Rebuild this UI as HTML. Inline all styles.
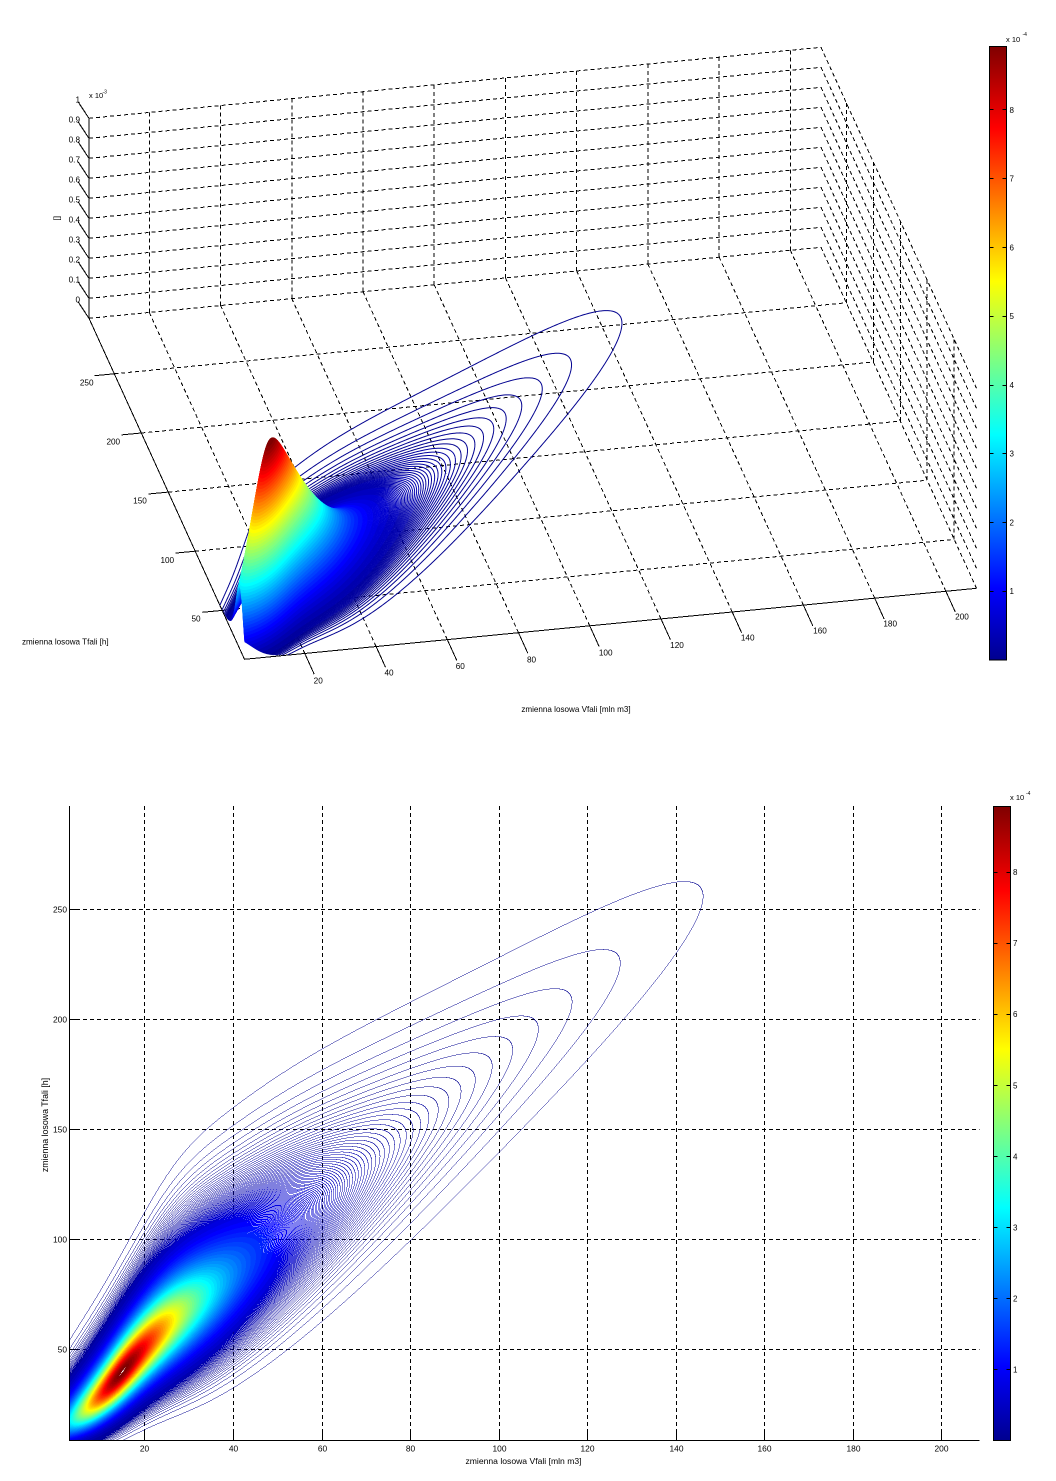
<!DOCTYPE html>
<html><head><meta charset="utf-8">
<style>
html,body{margin:0;padding:0;background:#fff;}
#wrap{position:relative;width:1056px;height:1481px;overflow:hidden;background:#fff;}
svg,canvas{position:absolute;left:0;top:0;}
text{font-family:"Liberation Sans",Arial,sans-serif;fill:#000;}
</style></head><body><div id="wrap">
<svg width="1056" height="1481" viewBox="0 0 1056 1481">
<defs>
<linearGradient id="jet" x1="0" y1="1" x2="0" y2="0">
<stop offset="0" stop-color="#00008F"/><stop offset="0.117" stop-color="#0000FF"/><stop offset="0.367" stop-color="#00FFFF"/><stop offset="0.617" stop-color="#FFFF00"/><stop offset="0.867" stop-color="#FF0000"/><stop offset="1" stop-color="#800000"/>
</linearGradient>
</defs>
<!-- 3D dashed grid -->
<g stroke="#000" stroke-width="1" stroke-dasharray="4 3" fill="none" shape-rendering="crispEdges">
<path d="M89 318.3L821 247.3M89 298.3L821 227.3M89 278.3L821 207.3M89 258.3L821 187.3M89 238.3L821 167.3M89 218.3L821 147.3M89 198.3L821 127.3M89 178.3L821 107.3M89 158.3L821 87.3M89 138.3L821 67.3M89 118.3L821 47.3"/>
<path d="M821 247.3L976.5 588.3M821 227.3L976.5 568.3M821 207.3L976.5 548.3M821 187.3L976.5 528.3M821 167.3L976.5 508.3M821 147.3L976.5 488.3M821 127.3L976.5 468.3M821 107.3L976.5 448.3M821 87.3L976.5 428.3M821 67.3L976.5 408.3M821 47.3L976.5 388.3"/>
<path d="M149.3 312.5V112.5M220.6 305.5V105.5M291.8 298.6V98.6M363 291.7V91.7M434.2 284.8V84.8M505.5 277.9V77.9M576.7 271V71M647.9 264.1V64.1M719.2 257.2V57.2M790.4 250.3V50.3"/>
<path d="M954.2 539.4V339.4M927.2 480.2V280.2M900.3 421.1V221.1M873.3 362V162M846.3 302.8V102.8"/>
<path d="M304.8 653.5L149.3 312.5M376.1 646.5L220.6 305.5M447.3 639.6L291.8 298.6M518.5 632.7L363 291.7M589.7 625.8L434.2 284.8M661 618.9L505.5 277.9M732.2 612L576.7 271M803.4 605.1L647.9 264.1M874.7 598.2L719.2 257.2M945.9 591.3L790.4 250.3"/>
<path d="M222.2 610.4L954.2 539.4M195.2 551.2L927.2 480.2M168.3 492.1L900.3 421.1M141.3 433L873.3 362M114.3 373.8L846.3 302.8"/>
</g>
<!-- 3D solid axes and ticks -->
<g stroke="#000" stroke-width="1" fill="none" shape-rendering="crispEdges">
<path d="M244.5 659.3L976.5 588.3M244.5 659.3L89 318.3M89 318.3V118.3"/>
<path d="M304.8 653.5l9.4 20.7M376.1 646.5l9.4 20.7M447.3 639.6l9.4 20.7M518.5 632.7l9.4 20.7M589.7 625.8l9.4 20.7M661 618.9l9.4 20.7M732.2 612l9.4 20.7M803.4 605.1l9.4 20.7M874.7 598.2l9.4 20.7M945.9 591.3l9.4 20.7"/>
<path d="M222.2 610.4l-19.9 1.9M195.2 551.2l-19.9 1.9M168.3 492.1l-19.9 1.9M141.3 433l-19.9 1.9M114.3 373.8l-19.9 1.9"/>
<path d="M89 318.3l-11 -16.6M89 298.3l-11 -16.6M89 278.3l-11 -16.6M89 258.3l-11 -16.6M89 238.3l-11 -16.6M89 218.3l-11 -16.6M89 198.3l-11 -16.6M89 178.3l-11 -16.6M89 158.3l-11 -16.6M89 138.3l-11 -16.6M89 118.3l-11 -16.6"/>
</g>
<!-- 3D colorbar -->
<rect x="989.5" y="46.5" width="17" height="613.5" fill="url(#jet)" stroke="#000" stroke-width="1" shape-rendering="crispEdges"/>
<g stroke="#000" stroke-width="1" shape-rendering="crispEdges">
<path d="M989.5 591.5h4M1002.5 591.5h4M989.5 522.5h4M1002.5 522.5h4M989.5 453.5h4M1002.5 453.5h4M989.5 385.5h4M1002.5 385.5h4M989.5 316.5h4M1002.5 316.5h4M989.5 247.5h4M1002.5 247.5h4M989.5 178.5h4M1002.5 178.5h4M989.5 109.5h4M1002.5 109.5h4"/>
</g>
<!-- 3D texts -->
<g font-size="8.2" text-anchor="middle">
<text x="318.2" y="683.7">20</text><text x="389" y="675.7">40</text><text x="460.3" y="669">60</text><text x="531.5" y="662.3">80</text><text x="605.7" y="655.7">100</text><text x="677" y="648">120</text><text x="747.7" y="640.7">140</text><text x="820" y="633.7">160</text><text x="890.2" y="626.3">180</text><text x="962" y="619.7">200</text>
<text x="86.7" y="385.7">250</text><text x="113.3" y="444.7">200</text><text x="140" y="503.7">150</text><text x="167.3" y="563">100</text><text x="196" y="621.3">50</text>
</g>
<g font-size="8.2" text-anchor="end">
<text x="80" y="302.5">0</text><text x="80" y="282.5">0.1</text><text x="80" y="262.5">0.2</text><text x="80" y="242.5">0.3</text><text x="80" y="222.5">0.4</text><text x="80" y="202.5">0.5</text><text x="80" y="182.5">0.6</text><text x="80" y="162.5">0.7</text><text x="80" y="142.5">0.8</text><text x="80" y="122.5">0.9</text><text x="80" y="102.5">1</text>
</g>
<text x="89" y="98" font-size="7.5">x 10</text><text x="102.5" y="93.5" font-size="5">-3</text>
<text transform="translate(59.5,218.3) rotate(-90)" font-size="8.2" text-anchor="middle">[]</text>
<text x="22" y="644.7" font-size="8.1">zmienna losowa Tfali [h]</text>
<text x="576" y="712" font-size="8.1" text-anchor="middle">zmienna losowa Vfali [mln m3]</text>
<g font-size="8">
<text x="1009.5" y="594.2">1</text><text x="1009.5" y="525.5">2</text><text x="1009.5" y="456.7">3</text><text x="1009.5" y="388">4</text><text x="1009.5" y="319.2">5</text><text x="1009.5" y="250.4">6</text><text x="1009.5" y="181.7">7</text><text x="1009.5" y="112.9">8</text>
</g>
<text x="1006" y="42" font-size="7.5">x 10</text><text x="1022.5" y="36" font-size="5">-4</text>

<!-- 2D dashed grid -->
<g stroke="#000" stroke-width="1" stroke-dasharray="4 3" fill="none" shape-rendering="crispEdges">
<path d="M144.5 1440V806M233.5 1440V806M322.5 1440V806M410.5 1440V806M499.5 1440V806M587.5 1440V806M676.5 1440V806M764.5 1440V806M853.5 1440V806M941.5 1440V806"/>
<path d="M69 1349.5H979.5M69 1239.5H979.5M69 1129.5H979.5M69 1019.5H979.5M69 909.5H979.5"/>
</g>
<g stroke="#000" stroke-width="1" fill="none" shape-rendering="crispEdges">
<path d="M69.5 806V1441M69 1440.5H979.5"/>
<path d="M144.5 1440V1431M233.5 1440V1431M322.5 1440V1431M410.5 1440V1431M499.5 1440V1431M587.5 1440V1431M676.5 1440V1431M764.5 1440V1431M853.5 1440V1431M941.5 1440V1431"/>
<path d="M69 1349.5H78M69 1239.5H78M69 1129.5H78M69 1019.5H78M69 909.5H78"/>
</g>
<g font-size="8.4" text-anchor="middle">
<text x="144.5" y="1451.5">20</text><text x="233.5" y="1451.5">40</text><text x="322.5" y="1451.5">60</text><text x="410.5" y="1451.5">80</text><text x="499.5" y="1451.5">100</text><text x="587.5" y="1451.5">120</text><text x="676.5" y="1451.5">140</text><text x="764.5" y="1451.5">160</text><text x="853.5" y="1451.5">180</text><text x="941.5" y="1451.5">200</text>
</g>
<g font-size="8.4" text-anchor="end">
<text x="67" y="1352.5">50</text><text x="67" y="1242.5">100</text><text x="67" y="1132.5">150</text><text x="67" y="1022.5">200</text><text x="67" y="912.5">250</text>
</g>
<text x="523.5" y="1464" font-size="8.6" text-anchor="middle">zmienna losowa Vfali [mln m3]</text>
<text transform="translate(48,1125) rotate(-90)" font-size="8.8" text-anchor="middle">zmienna losowa Tfali [h]</text>
<!-- 2D colorbar -->
<rect x="993.5" y="806.5" width="17" height="634" fill="url(#jet)" stroke="#000" stroke-width="1" shape-rendering="crispEdges"/>
<g stroke="#000" stroke-width="1" shape-rendering="crispEdges">
<path d="M993.5 1369.5h4M1006.5 1369.5h4M993.5 1298.5h4M1006.5 1298.5h4M993.5 1227.5h4M1006.5 1227.5h4M993.5 1156.5h4M1006.5 1156.5h4M993.5 1085.5h4M1006.5 1085.5h4M993.5 1014.5h4M1006.5 1014.5h4M993.5 943.5h4M1006.5 943.5h4M993.5 872.5h4M1006.5 872.5h4"/>
</g>
<g font-size="8">
<text x="1013" y="1372.5">1</text><text x="1013" y="1301.4">2</text><text x="1013" y="1230.4">3</text><text x="1013" y="1159.3">4</text><text x="1013" y="1088.3">5</text><text x="1013" y="1017.2">6</text><text x="1013" y="946.2">7</text><text x="1013" y="875.1">8</text>
</g>
<text x="1010" y="800" font-size="7.5">x 10</text><text x="1026" y="795" font-size="5">-4</text>
</svg>
<canvas id="c" width="1056" height="1481" style="width:1056px;height:1481px"></canvas>
</div>
<script>
(function(){
var cv=document.getElementById('c');
var dpr=window.devicePixelRatio||1;
cv.width=Math.round(1056*dpr);cv.height=Math.round(1481*dpr);
var ctx=cv.getContext('2d');
function u(j){if(j<1||j>47)return 0;if(j<=16)return j/16;if(j<=31)return 1;return (48-j)/16;}
var JET=[];
for(var i=1;i<=64;i++){var r=u(i-24),g=u(i-8),b=(i<=39)?u(i+8):0;JET.push([Math.round(r*255),Math.round(g*255),Math.round(b*255)]);}
var NL=701,KMAX=700;
function lnR(v){var d=v-15;if(d<0)d=d*(1-0.06*d);return -(0.037*(Math.sqrt(d*d+9)-3)+1.81*(1-Math.exp(-d*d/1697)));}
function mfun(v){var d=v-15;return 19+1.62*v-3.5*Math.exp(-d*d/400)+0.6*d*Math.exp(-d*d/225);}
function f(v,t){if(t<0)t=0;var e=(v-60)/45,e2=(v-15)/12;var s=1+0.17*Math.exp(-e*e)-0.12*Math.exp(-e2*e2);var z=(Math.sqrt(t)-Math.sqrt(mfun(v)))/s;
 var lg=-4.28*(Math.sqrt(1+z*z/2.4025)-1);return Math.exp(lnR(v)+lg);}
function colIdx(k){return Math.min(63,Math.floor(k/NL*64));}

/* ---------- 2D contour (per-pixel level boundaries) ---------- */
var x0=Math.ceil(70*dpr),x1=Math.round(979.3*dpr),y0=Math.round(806*dpr),y1=Math.round(1440*dpr);
var w=x1-x0,h=y1-y0,W1=w+1;
var K=new Int16Array(W1*(h+1));
for(var j=0;j<=h;j++){var cy=(y0+j+0.5)/dpr;var T=50+(1349.3-cy)/2.2;
 for(var ii=0;ii<=w;ii++){var cx=(x0+ii+0.5)/dpr;var V=20+(cx-144.8)/4.4278;
  var k=Math.floor(f(V,T)*NL);if(k>KMAX)k=KMAX;K[j*W1+ii]=k;}}
var img=ctx.createImageData(w,h);var D=img.data;
for(var j2=0;j2<h;j2++)for(var i2=0;i2<w;i2++){
 var k0=K[j2*W1+i2],kr=K[j2*W1+i2+1],kd=K[(j2+1)*W1+i2];
 if(k0!==kr||k0!==kd){var km=Math.max(k0,kr,kd);var c=JET[colIdx(km)];var p=(j2*w+i2)*4;D[p]=c[0];D[p+1]=c[1];D[p+2]=c[2];D[p+3]=255;}}
ctx.putImageData(img,x0,y0);

/* ---------- 3D contour3 ---------- */
ctx.setTransform(dpr,0,0,dpr,0,0);
var nv=412,nt=290,Va=3.06,Vb=208.6,Ta=8.64,Tb=296.95;
var dv=(Vb-Va)/(nv-1),dt=(Tb-Ta)/(nt-1);
var F=new Float64Array(nv*nt);
for(var a1=0;a1<nv;a1++)for(var b1=0;b1<nt;b1++)F[a1*nt+b1]=f(Va+a1*dv,Ta+b1*dt);
var segs=[];for(var q=0;q<=KMAX;q++)segs.push([]);
function PX(V,T){return 244.5+(V-3.06)*3.5614-(T-8.64)*0.53935;}
function PY(V,T){return 659.3-(V-3.06)*0.34543-(T-8.64)*1.18276;}
for(var i3=0;i3<nv-1;i3++){for(var j3=0;j3<nt-1;j3++){
 var A=F[i3*nt+j3],B=F[(i3+1)*nt+j3],C=F[(i3+1)*nt+j3+1],Dd=F[i3*nt+j3+1];
 var mn=Math.min(A,B,C,Dd),mx=Math.max(A,B,C,Dd);
 var ka=Math.floor(mn*NL)+1,kb=Math.min(KMAX,Math.floor(mx*NL));
 if(ka>kb)continue;
 var va=Va+i3*dv,ta=Ta+j3*dt;
 for(var kk=ka;kk<=kb;kk++){var L=kk/NL;var pts=[];var s;
  if((A>=L)!==(B>=L)){s=(L-A)/(B-A);pts.push(va+s*dv,ta);}
  if((B>=L)!==(C>=L)){s=(L-B)/(C-B);pts.push(va+dv,ta+s*dt);}
  if((C>=L)!==(Dd>=L)){s=(L-C)/(Dd-C);pts.push(va+dv-s*dv,ta+dt);}
  if((Dd>=L)!==(A>=L)){s=(L-Dd)/(A-Dd);pts.push(va,ta+dt-s*dt);}
  var zp=kk/NL*178.6;var arr=segs[kk];
  for(var m=0;m+3<pts.length;m+=4){arr.push(PX(pts[m],pts[m+1]),PY(pts[m],pts[m+1])-zp,PX(pts[m+2],pts[m+3]),PY(pts[m+2],pts[m+3])-zp);}
 }}}
ctx.lineWidth=1;
for(var k4=1;k4<=KMAX;k4++){var ar=segs[k4];if(!ar.length)continue;var cc=JET[colIdx(k4)];
 ctx.strokeStyle='rgb('+cc[0]+','+cc[1]+','+cc[2]+')';ctx.beginPath();
 for(var n=0;n<ar.length;n+=4){ctx.moveTo(ar[n],ar[n+1]);ctx.lineTo(ar[n+2],ar[n+3]);}
 ctx.stroke();}
})();
</script>
</body></html>
